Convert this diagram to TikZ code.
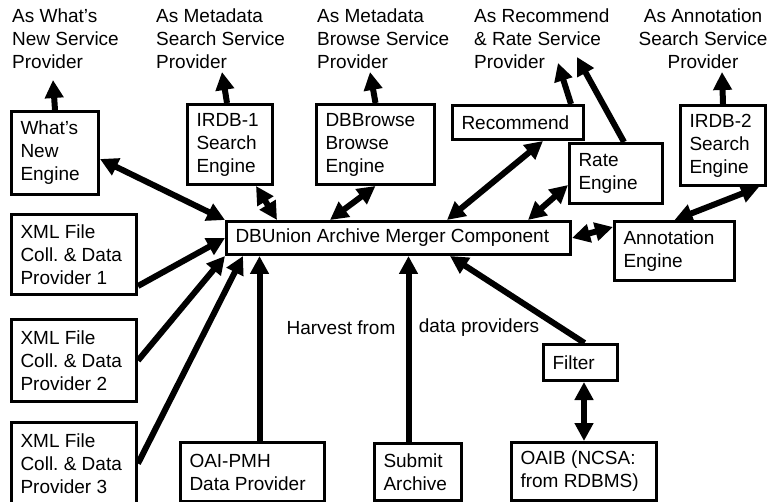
\documentclass[tikz,border=0pt]{standalone}
\usepackage{fontspec}
\setmainfont{Liberation Sans}
\usetikzlibrary{arrows.meta,positioning,calc}

\begin{document}
\begin{tikzpicture}
[x=1pt,y=-1pt,
every node/.style={font=\fontsize{19pt}{23pt}\selectfont\frenchspacing},
box/.style={rectangle,draw=black,line width=3pt,anchor=north west,align=flush left,inner xsep=9pt,inner ysep=0pt},
provider/.style={anchor=north west,align=flush left,inner sep=0pt},
post/.style={-{Triangle[length=18pt,width=18pt]},line width=6pt},
both/.style={{Triangle[length=18pt,width=18pt]}-{Triangle[length=18pt,width=18pt]},line width=6pt}]
\clip (0,0) rectangle (773,502);
% service providers on top
\node[provider] (whatsnew lbl) at (12,9) {As What's\\New Service\\Provider};
\node[provider] (search lbl) at (156,9) {As Metadata\\Search Service\\Provider};
\node[provider] (browse lbl) at (317,9) {As Metadata\\Browse Service\\Provider};
\node[provider] (recrate lbl) at (474,9) {As Recommend\\\& Rate Service\\Provider};
\node[provider,anchor=north,align=center] (annotation lbl) at (703,9) {As Annotation\\Search Service\\Provider};
\coordinate (whatsnew tip) at (53,80);
\coordinate (search tip) at (222,72);
\coordinate (browse tip) at (370,72);
\coordinate (recommend tip) at (558,63);
\coordinate (rate tip) at (577,57);
\coordinate (annotation tip) at (722,72);
% engines
\node[box,text width=69pt,minimum height=83pt] (whats new) at (10,110) {What's\\New\\Engine};
\node[box,text width=67pt,minimum height=80pt] (irdb1) at (186,103) {IRDB-1\\Search\\Engine};
\node[box,text width=100pt,minimum height=80pt] (dbbrowse) at (315,103) {DBBrowse\\Browse\\Engine};
\node[box,text width=113pt,minimum height=34pt] (recommend) at (451,104) {Recommend};
\node[box,text width=75pt,minimum height=60pt] (rate) at (568,142) {Rate\\Engine};
\node[box,text width=67pt,minimum height=80pt] (irdb2) at (679,104) {IRDB-2\\Search\\Engine};
\node[box,text width=326pt,minimum height=33pt] (merger) at (225,220) {DBUnion Archive Merger Component};
\node[box,text width=102pt,minimum height=59pt] (annotation) at (613,220) {Annotation\\Engine};
% data providers
\node[box,text width=107pt,minimum height=80pt] (xml1) at (10,213) {XML File\\Coll. \& Data\\Provider 1};
\node[box,text width=107pt,minimum height=82pt] (xml2) at (10,318) {XML File\\Coll. \& Data\\Provider 2};
\node[box,text width=107pt,minimum height=82pt] (xml3) at (10,421) {XML File\\Coll. \& Data\\Provider 3};
\node[box,text width=126pt,minimum height=59pt] (oaipmh) at (179,441) {OAI-PMH\\Data Provider};
\node[box,text width=69pt,minimum height=57pt] (submit) at (373,442) {Submit\\Archive};
\node[box,text width=56pt,minimum height=36pt] (filter) at (542,343) {Filter};
\node[box,text width=127pt,minimum height=58pt] (oaib) at (510,441) {OAIB (NCSA:\\from RDBMS)};
\node (harvest) at (341,328) {Harvest from};
\node (providers) at (479,328) {data providers};
% to the service providers
\draw[post] (whats new.north) -- (whatsnew tip);
\draw[post] ([xshift=-3pt]irdb1.north) -- (search tip);
\draw[post] (dbbrowse.north) -- (browse tip);
\draw[post] ([xshift=-14pt]recommend.north east) -- (recommend tip);
\draw[post] ([xshift=8pt]rate.north) -- (rate tip);
\draw[post] (irdb2.north) -- (annotation tip);
% engines <-> merger
\draw[both] ([yshift=-6pt]whats new.east) -- (merger.north west);
\draw[both] ([xshift=-18pt]irdb1.south east) -- ([xshift=52pt]merger.north west);
\draw[both] (dbbrowse.south) -- ([xshift=105pt]merger.north west);
\draw[both] ([xshift=-42pt]recommend.south east) -- ([xshift=222pt]merger.north west);
\draw[both] ([yshift=20pt]rate.south west) -- ([xshift=-44pt]merger.north east);
\draw[both] (merger.east) -- ([yshift=-7pt]annotation.north west);
\draw[both] ([xshift=-8pt]irdb2.south east) -- (annotation.north);
% harvest
\draw[post] ([yshift=10pt]xml1.south east) -- (merger.west);
\draw[post] (xml2.east) -- (merger.south west);
\draw[post] (xml3.east) -- ([xshift=18pt]merger.south west);
\draw[post] ([xshift=7pt]oaipmh.north) -- ([xshift=7pt]oaipmh.north |- merger.south);
\draw[post] ([xshift=-9.5pt]submit.north) -- ([xshift=-9.5pt]submit.north |- merger.south);
\draw[post] ([xshift=4pt]filter.north) -- ([xshift=225pt]merger.south west);
\draw[both] (oaib.north |- filter.south) -- (oaib.north);
\end{tikzpicture}
\end{document}
